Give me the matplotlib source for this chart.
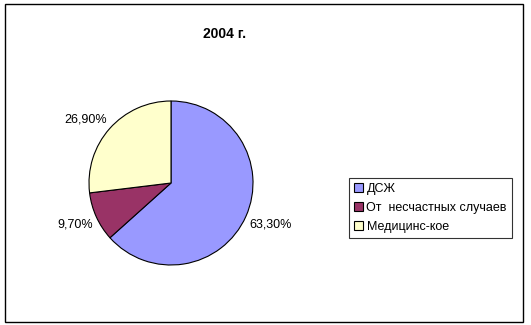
import matplotlib
matplotlib.use("Agg")
import numpy as np
from matplotlib import pyplot as plt
from matplotlib.patches import Rectangle

plt.rcParams['font.family'] = ['Liberation Sans', 'DejaVu Sans']

labels = ["ДСЖ", "От  несчастных случаев", "Медицинс-кое"]
values = [63.3, 9.7, 26.9]
colors = ["#9999FF", "#993366", "#FFFFCC"]
title = "2004 г."

fig = plt.figure(figsize=(5.31, 3.25), dpi=100)
fig.patches.append(Rectangle((5 / 531, 3 / 325), 518 / 531, 318 / 325, transform=fig.transFigure,
                             fill=False, edgecolor="black", linewidth=1))

ax = fig.add_axes([89 / 531, 60 / 325, 164 / 531, 164 / 325])
wedges, texts = ax.pie(values, colors=colors, startangle=90, counterclock=False,
                       wedgeprops=dict(edgecolor="black", linewidth=0.8))
# Excel-style labels just outside the slice, aligned away from the pie
for w, v in zip(wedges, values):
    ang = np.deg2rad((w.theta1 + w.theta2) / 2)
    x, y = 1.05 * np.cos(ang), 1.05 * np.sin(ang)
    ax.text(x, y, f"{v:.2f}%".replace(".", ","),
            ha="left" if x > 0 else "right",
            va="bottom" if y > 0 else "top", fontsize=9)
ax.set_xlim(-1, 1)
ax.set_ylim(-1, 1)
ax.set_aspect("equal")

fig.text(225 / 531, 1 - 34 / 325, title, ha="center", va="center", fontsize=10, fontweight="bold")

leg = fig.legend(wedges, labels, loc="upper left", bbox_to_anchor=(349 / 531, 1 - 178 / 325),
                 fontsize=9, frameon=True, fancybox=False, edgecolor="black",
                 handlelength=0.7, handleheight=0.7, handletextpad=0.3, borderpad=0.4,
                 labelspacing=0.55, borderaxespad=0)
leg.get_frame().set_linewidth(0.8)

fig.savefig("out.png", dpi=100)
